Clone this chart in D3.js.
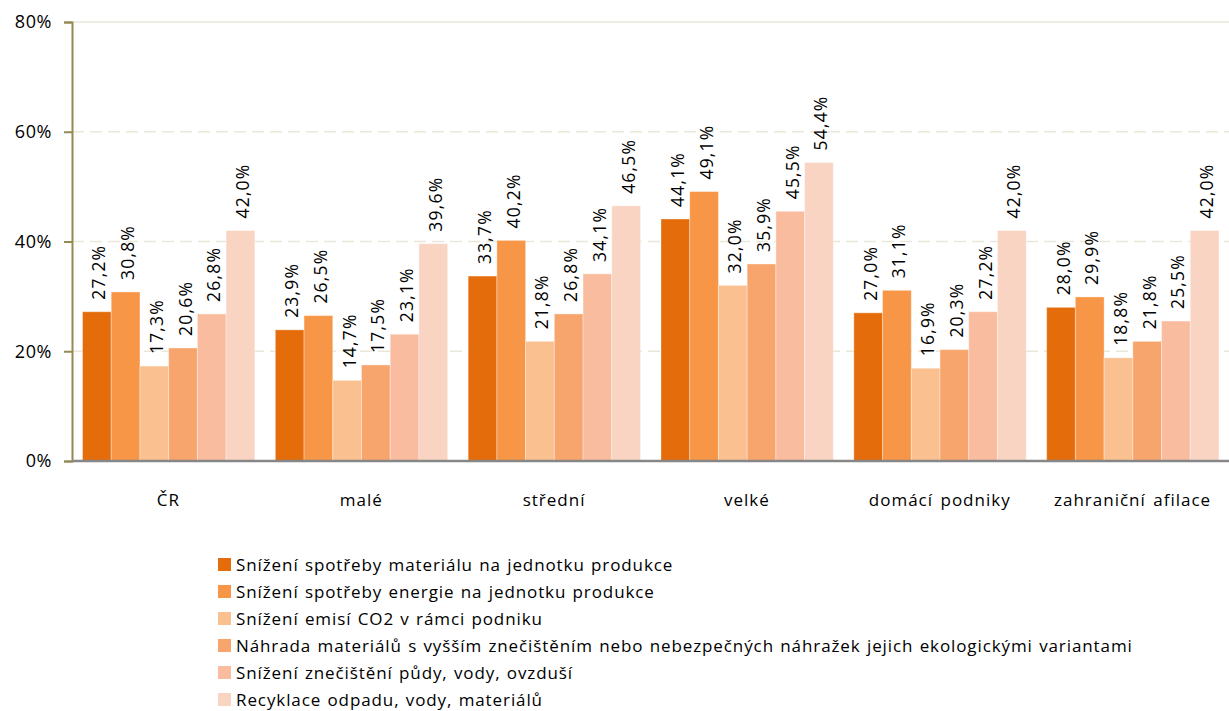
<!DOCTYPE html>
<html>
<head>
<meta charset="utf-8">
<script src="https://cdn.jsdelivr.net/npm/d3@7"></script>
<style>
    body { margin: 0; background: #fff; }
    svg text { font-family: "Open Sans", "Noto Sans", sans-serif; fill: #000; }
</style>
</head>
<body>
<div id="chart"></div>
<script>
    const categories = ['ČR', 'malé', 'střední', 'velké', 'domácí podniky', 'zahraniční afilace'];
    const seriesNames = [
        'Snížení spotřeby materiálu na jednotku produkce',
        'Snížení spotřeby energie na jednotku produkce',
        'Snížení emisí CO2 v rámci podniku',
        'Náhrada materiálů s vyšším znečištěním nebo nebezpečných náhražek jejich ekologickými variantami',
        'Snížení znečištění půdy, vody, ovzduší',
        'Recyklace odpadu, vody, materiálů'
    ];
    const s1 = [27.2, 23.9, 33.7, 44.1, 27.0, 28.0];
    const s2 = [30.8, 26.5, 40.2, 49.1, 31.1, 29.9];
    const s3 = [17.3, 14.7, 21.8, 32.0, 16.9, 18.8];
    const s4 = [20.6, 17.5, 26.8, 35.9, 20.3, 21.8];
    const s5 = [26.8, 23.1, 34.1, 45.5, 27.2, 25.5];
    const s6 = [42.0, 39.6, 46.5, 54.4, 42.0, 42.0];
    const yTicks = [0, 20, 40, 60, 80];
    const colors = ['#E46C0A', '#F79646', '#FAC090', '#F7A56C', '#F9BC9E', '#F9D4C3'];

    const series = [s1, s2, s3, s4, s5, s6];
    const W = 1229, H = 711;
    const m = { left: 72, right: 0, top: 22, bottom: 250 };

    const svg = d3.select('#chart').append('svg')
        .attr('width', W)
        .attr('height', H);

    let x0 = d3.scaleBand().domain(categories).range([m.left, W - m.right]);
    let x1 = d3.scaleBand().domain(d3.range(series.length)).range([10.5, x0.bandwidth() - 10]);
    let y = d3.scaleLinear().domain([0, 80]).range([H - m.bottom + 0, m.top]);

    // grid
    svg.selectAll('.grid')
        .data(yTicks.filter(d => d > 0))
        .enter()
        .append('line')
        .attr('x1', m.left)
        .attr('x2', W)
        .attr('y1', d => y(d))
        .attr('y2', d => y(d))
        .attr('stroke', '#E9E7D9')
        .attr('stroke-width', 1.5)
        .attr('stroke-dasharray', d => d === 80 ? null : '12,6');

    // bars
    let g = svg.selectAll('.grp')
        .data(categories)
        .enter()
        .append('g')
        .attr('transform', d => 'translate(' + x0(d) + ',0)');

    g.selectAll('rect')
        .data((c, ci) => series.map((s, si) => ({ si: si, v: s[ci] })))
        .enter()
        .append('rect')
        .attr('x', d => x1(d.si))
        .attr('width', x1.bandwidth())
        .attr('y', d => y(d.v))
        .attr('height', d => y(0) - y(d.v))
        .attr('fill', d => colors[d.si])
        .attr('stroke', 'rgba(255,255,255,0.35)')
        .attr('stroke-width', 1);

    g.selectAll('.lbl')
        .data((c, ci) => series.map((s, si) => ({ si: si, v: s[ci] })))
        .enter()
        .append('text')
        .attr('transform', d => 'translate(' + (x1(d.si) + x1.bandwidth() / 2 + 8.5) + ',' + (y(d.v) - 12) + ') rotate(-90)')
        .style('font-size', '17.5px')
        .style('letter-spacing', '1.2px')
        .text(d => d.v.toFixed(1).replace('.', ',') + '%');

    // y axis
    let yAxis = d3.axisLeft(y).tickValues(yTicks).tickSize(8).tickPadding(12).tickFormat(d => d + '%');
    let ya = svg.append('g').attr('transform', 'translate(' + m.left + ',0)').call(yAxis);
    ya.select('.domain').attr('stroke', '#948A54').attr('stroke-width', 2);
    ya.selectAll('.tick line').attr('stroke', '#948A54').attr('stroke-width', 2);
    ya.selectAll('.tick text').style('font-size', '18px').style('letter-spacing', '0.6px').attr('fill', '#000');

    // x axis
    svg.append('line')
        .attr('x1', m.left)
        .attr('x2', W)
        .attr('y1', y(0))
        .attr('y2', y(0))
        .attr('stroke', '#878787')
        .attr('stroke-width', 2.5);

    svg.selectAll('.xl')
        .data(categories)
        .enter()
        .append('text')
        .attr('x', d => x0(d) + x0.bandwidth() / 2)
        .attr('y', 506)
        .attr('text-anchor', 'middle')
        .style('font-size', '17px')
        .style('letter-spacing', '1px')
        .style('word-spacing', '2px')
        .text(d => d);

    // legend
    let lg = svg.selectAll('.leg')
        .data(seriesNames)
        .enter()
        .append('g')
        .attr('transform', (d, i) => 'translate(218,' + (558 + i * 27) + ')');
    lg.append('rect').attr('width', 13).attr('height', 13).attr('fill', (d, i) => colors[i]);
    lg.append('text')
        .attr('x', 18)
        .attr('y', 12.5)
        .style('font-size', '17px')
        .style('letter-spacing', '0.9px')
        .style('word-spacing', '1px')
        .text(d => d);
</script>
</body>
</html>
